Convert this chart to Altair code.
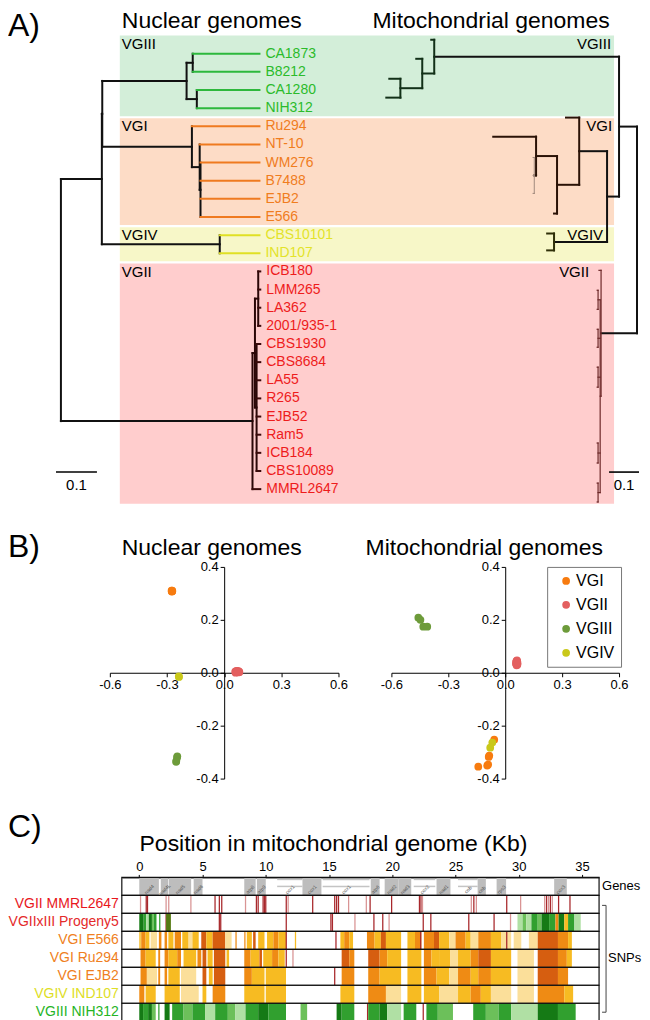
import altair as alt
import pandas as pd

FONT = "Liberation Sans"

# ============================ A) phylogenies ============================
clades = ["VGIII", "VGI", "VGIV", "VGII"]

nuc_leaf_names = ["CA1873", "B8212", "CA1280", "NIH312",
                  "Ru294", "NT-10", "WM276", "B7488", "EJB2", "E566",
                  "CBS10101", "IND107",
                  "ICB180", "LMM265", "LA362", "2001/935-1", "CBS1930",
                  "CBS8684", "LA55", "R265", "EJB52", "Ram5", "ICB184",
                  "CBS10089", "MMRL2647"]
nuc_leaf_group = ["VGIII"] * 4 + ["VGI"] * 6 + ["VGIV"] * 2 + ["VGII"] * 13
nuc_leaf_parent = ["III_a", "III_a", "III_b", "III_b",
                   "I", "I_a", "I_b", "I_b", "I_b", "I_b",
                   "IV", "IV",
                   "II_b", "II_b", "II_b", "II_b", "II_c", "II_c", "II_c",
                   "II_c", "II_c", "II_c", "II_c", "II_c", "II"]
nuc_leaf_depth = [0.485, 0.485, 0.485, 0.485,
                  0.485, 0.485, 0.485, 0.485, 0.485, 0.485,
                  0.485, 0.485,
                  0.487, 0.487, 0.487, 0.487, 0.487, 0.487, 0.487,
                  0.487, 0.487, 0.487, 0.487, 0.487, 0.487]
nuc_node_names = ["root", "A", "A1", "III", "III_a", "III_b", "I", "I_a",
                  "I_b", "IV", "II", "II_a", "II_b", "II_c"]
nuc_node_parent = [None, "root", "A", "A1", "III", "III", "A1", "I", "I_a",
                   "A", "root", "II", "II_a", "II_a"]
nuc_node_depth = [0.0, 0.100, 0.101, 0.307, 0.322, 0.332, 0.320, 0.339,
                  0.341, 0.388, 0.468, 0.474, 0.482, 0.478]
nuc_node_group = ["root", "root", "root", "VGIII", "VGIII", "VGIII", "VGI",
                  "VGI", "VGI", "VGIV", "VGII", "VGII", "VGII", "VGII"]

mito_node_names = ["mroot", "mB", "mIII", "mG", "mH", "mC", "mI", "mD", "mE",
                   "mF", "mIV", "mII", "mQ", "ms1", "ms2", "ms3", "ms4", "ms5"]
mito_node_parent = [None, "mroot", "mB", "mIII", "mG", "mB", "mC", "mI", "mD",
                    "mE", "mC", "mroot", "mII", "mQ", "mQ", "mQ", "mQ", "mQ"]
mito_node_depth = [0.0, 0.060, 0.677, 0.717, 0.790, 0.100, 0.193, 0.267, 0.337,
                   0.343, 0.277, 0.120, 0.123, 0.130, 0.130, 0.130, 0.130, 0.130]
mito_node_group = ["root", "root", "VGIII", "VGIII", "VGIII", "root", "VGI",
                   "VGI", "VGI", "VGIx", "VGIV", "VGII", "VGII", "VGII", "VGII",
                   "VGII", "VGII", "VGII"]
mito_leaf_names = ["m1", "m2", "m3", "m4", "m5", "m6", "m7", "m8", "m9", "m10",
                   "m11", "m12", "v1", "v2", "v3", "v4", "v5", "v6", "v7", "v8",
                   "v9", "v10", "v11"]
mito_leaf_parent = ["mIII", "mG", "mH", "mH", "mI", "mD", "mE", "mF", "mF",
                    "mF", "mIV", "mIV", "mII", "ms1", "ms1", "ms2", "ms2",
                    "ms3", "ms3", "ms4", "ms4", "ms5", "ms5"]
mito_leaf_depth = [0.687, 0.737, 0.827, 0.837, 0.237, 0.277, 0.480, 0.347,
                   0.347, 0.347, 0.300, 0.300, 0.127, 0.133, 0.133, 0.133,
                   0.133, 0.133, 0.133, 0.133, 0.133, 0.133, 0.133]
mito_leaf_row = [-0.77, 0.28, 1.38, 2.42, 3.52, 8.81, 4.57, 5.72, 6.71, 7.70,
                 9.91, 10.84, 11.94, 13.04, 14.09, 15.19, 16.18, 17.28, 18.38,
                 21.46, 22.56, 23.67, 24.71]
mito_leaf_group = ["VGIII"] * 4 + ["VGI"] * 3 + ["VGIx"] * 3 + ["VGIV"] * 2 + ["VGII"] * 11

SCALE_LEN = 0.1

# ============================ B) PCA ============================
pca_groups = ["VGI", "VGII", "VGIII", "VGIV"]
nuc_pc_group = ["VGI"] * 6 + ["VGII"] * 13 + ["VGIII"] * 4 + ["VGIV"] * 2
nuc_pc1 = [-0.276, -0.274, -0.273, -0.272, -0.275, -0.273,
           0.058, 0.062, 0.066, 0.070, 0.074, 0.078, 0.064, 0.068, 0.072,
           0.060, 0.076, 0.080, 0.066,
           -0.246, -0.247, -0.251, -0.252,
           -0.238, -0.237]
nuc_pc2 = [0.310, 0.309, 0.308, 0.309, 0.307, 0.310,
           0.004, 0.006, 0.003, 0.005, 0.004, 0.002, 0.002, 0.007, 0.001,
           0.000, 0.006, 0.003, 0.005,
           -0.316, -0.320, -0.333, -0.337,
           -0.014, -0.016]
mito_pc_group = ["VGI"] * 6 + ["VGII"] * 13 + ["VGIII"] * 4 + ["VGIV"] * 2
mito_pc1 = [-0.058, -0.084, -0.095, -0.142, -0.090, -0.087,
            0.060, 0.062, 0.058, 0.064, 0.061, 0.063, 0.059, 0.057, 0.065,
            0.060, 0.062, 0.059, 0.061,
            -0.458, -0.447, -0.432, -0.411,
            -0.068, -0.079]
mito_pc2 = [-0.253, -0.313, -0.351, -0.355, -0.347, -0.318,
            0.045, 0.040, 0.035, 0.030, 0.038, 0.043, 0.032, 0.041, 0.036,
            0.028, 0.047, 0.034, 0.039,
            0.208, 0.200, 0.174, 0.174,
            -0.264, -0.283]

# ============================ C) SNP map ============================
c_rows = ["Genes", "VGII MMRL2647", "VGIIxIII Progeny5", "VGI E566",
          "VGI Ru294", "VGI EJB2", "VGIV IND107", "VGIII NIH312"]
kb_ticks = [0, 5, 10, 15, 20, 25, 30, 35]

gene_names = ["nad4", "nad4L", "nad5", "nad6", "atp8", "atp9", "cox1", "atp6",
              "nad2", "nad3", "nad1", "cob", "rps3", "cox3"]
gene_start = [0.0, 1.7, 2.35, 4.3, 8.3, 9.3, 12.9, 18.3, 19.4, 20.5, 23.5,
              26.75, 28.25, 32.8]
gene_end = [1.55, 2.3, 4.1, 5.0, 9.2, 10.0, 14.4, 19.0, 20.5, 21.5, 24.6,
            27.4, 29.0, 33.8]
orf_names = ["cox1", "cox1", "cox2", "cob"]
orf_start = [10.9, 14.5, 21.7, 25.2]
orf_end = [12.9, 18.2, 23.4, 26.75]

mmrl_snps = [(0.05, 'p'), (0.5, 'r'), (0.6, 'r'), (2.07, 'p'), (2.28, 'p'),
             (4.03, 'p'), (5.94, 'r'), (6.28, 'r'), (6.47, 'r'), (8.35, 'p'),
             (9.21, 'r'), (9.35, 'r'), (9.74, 'r'), (9.85, 'r'), (9.95, 'r'),
             (11.57, 'r'), (11.72, 'p'), (13.66, 'r'), (15.4, 'r'), (15.55, 'r'),
             (15.7, 'r'), (16.5, 'p'), (17.9, 'p'), (18.2, 'r'), (19.9, 'r'),
             (22.1, 'r'), (22.22, 'r'), (22.34, 'p'), (26.2, 'p'), (26.4, 'r'),
             (26.6, 'p'), (29.0, 'r'), (30.1, 'p'), (32.0, 'p'), (32.15, 'r'),
             (32.3, 'p'), (32.45, 'r'), (32.6, 'p'), (33.1, 'r'), (34.0, 'r')]
prog_snps = [(0.0, 0.35, 'G'), (0.35, 0.55, 'g'), (0.55, 0.75, 'L'),
             (0.75, 1.0, 'G'), (1.0, 1.15, 'm'), (1.15, 1.36, 'g'), (1.57, 'g'),
             (2.07, 'r'), (2.12, 2.5, 'v'), (6.28, 'r'), (6.39, 'r'),
             (11.57, 'r'), (15.1, 'r'), (15.22, 'r'), (17.0, 'p'), (18.5, 'r'),
             (19.2, 'r'), (19.7, 'p'), (22.4, 'r'), (23.0, 'r'), (26.0, 'r'),
             (28.0, 'r'), (29.3, 'p'), (29.9, 30.3, 'L'), (30.3, 30.6, 'm'),
             (30.6, 31.0, 'L'), (31.0, 31.5, 'g'), (31.5, 31.8, 'm'),
             (31.8, 32.4, 'G'), (32.4, 32.9, 'g'), (32.9, 33.15, 'o'),
             (33.15, 33.6, 'G'), (33.6, 33.9, 'y'), (33.9, 34.4, 'g'),
             (34.4, 34.9, 'L')]
e566_snps = [(0.0, 0.12, 'y'), (0.15, 0.5, 'o'), (0.5, 0.8, 'y'), (0.9, 1.4, 'l'),
             (1.55, 1.75, 'o'), (2.0, 2.2, 'o'), (2.3, 2.7, 'y'), (2.8, 3.3, 'o'),
             (3.4, 3.9, 'y'), (3.9, 4.2, 'l'), (4.2, 4.7, 'y'), (4.9, 5.3, 'd'),
             (5.3, 5.8, 'y'), (5.8, 6.8, 'd'), (6.8, 7.3, 'l'), (7.6, 'o'),
             (8.3, 'o'), (8.5, 8.9, 'y'), (9.0, 9.2, 'd'), (9.4, 9.9, 'y'),
             (10.1, 10.6, 'y'), (10.6, 11.0, 'o'), (11.0, 11.6, 'y'), (11.57, 'r'),
             (12.3, 'y'), (15.5, 'r'), (15.9, 16.2, 'y'), (16.2, 16.6, 'o'),
             (16.6, 16.9, 'y'), (18.0, 18.6, 'o'), (18.6, 19.1, 'y'),
             (19.1, 19.5, 'd'), (19.5, 20.7, 'y'), (21.2, 21.8, 'y'),
             (21.8, 22.3, 'o'), (22.2, 'r'), (22.5, 23.3, 'o'), (23.3, 23.7, 'd'),
             (23.7, 24.5, 'y'), (24.5, 25.0, 'l'), (25.0, 25.8, 'o'),
             (25.8, 26.2, 'y'), (26.2, 26.8, 'l'), (26.8, 27.8, 'o'),
             (27.8, 28.6, 'y'), (28.6, 29.4, 'l'), (29.0, 'r'), (29.6, 30.2, 'l'),
             (30.8, 31.5, 'l'), (31.5, 33.1, 'd'), (33.1, 33.9, 'o'),
             (33.9, 34.2, 'y')]
ru294_snps = [(0.1, 0.5, 'o'), (0.5, 1.3, 'y'), (1.5, 1.65, 'o'), (2.0, 2.3, 'o'),
              (2.3, 3.0, 'y'), (3.0, 3.3, 'o'), (3.5, 4.5, 'y'), (4.6, 4.9, 'o'),
              (5.0, 5.3, 'd'), (5.4, 5.8, 'y'), (5.9, 6.8, 'd'), (6.9, 7.1, 'y'),
              (8.3, 8.8, 'o'), (8.8, 9.5, 'y'), (9.5, 9.7, 'd'), (9.8, 10.5, 'y'),
              (10.5, 11.0, 'o'), (11.0, 11.5, 'y'), (11.57, 'r'), (12.1, 'p'),
              (16.0, 16.6, 'd'), (16.6, 17.0, 'o'), (18.1, 19.0, 'd'),
              (19.0, 19.6, 'o'), (19.6, 20.7, 'y'), (21.2, 22.3, 'y'),
              (22.5, 23.1, 'o'), (23.1, 23.7, 'y'), (23.7, 24.6, 'y'),
              (24.6, 25.2, 'l'), (25.2, 26.2, 'y'), (26.2, 26.8, 'o'),
              (26.8, 27.8, 'd'), (27.8, 29.4, 'y'), (29.9, 31.2, 'l'),
              (31.5, 33.1, 'd'), (33.1, 33.8, 'o'), (33.8, 34.2, 'y')]
ejb2_snps = [(0.1, 0.6, 'o'), (0.6, 1.4, 'l'), (1.5, 1.65, 'o'), (2.0, 2.2, 'o'),
             (2.3, 3.2, 'y'), (3.3, 4.5, 'l'), (5.0, 5.3, 'd'), (5.5, 5.8, 'y'),
             (5.9, 6.8, 'd'), (8.3, 8.9, 'o'), (8.9, 9.9, 'y'), (10.0, 11.6, 'y'),
             (15.4, 'r'), (16.0, 17.0, 'o'), (18.1, 19.0, 'o'), (19.0, 20.7, 'y'),
             (21.2, 22.3, 'y'), (22.5, 23.5, 'o'), (23.5, 24.5, 'y'),
             (24.5, 25.2, 'l'), (25.2, 26.2, 'o'), (26.2, 26.8, 'y'),
             (26.8, 27.8, 'o'), (27.8, 29.4, 'y'), (29.9, 31.2, 'l'),
             (31.5, 33.1, 'd'), (33.1, 33.9, 'o')]
ind107_snps = [(0.0, 0.4, 'o'), (0.5, 1.3, 'y'), (2.0, 3.2, 'y'), (3.3, 4.7, 'l'),
               (5.0, 5.3, 'y'), (5.8, 6.8, 'o'), (8.3, 9.9, 'y'), (10.0, 11.6, 'y'),
               (15.9, 17.0, 'y'), (18.1, 19.5, 'o'), (19.5, 20.7, 'l'),
               (21.2, 22.3, 'y'), (22.5, 23.7, 'y'), (23.7, 25.2, 'l'),
               (25.2, 26.2, 'y'), (26.2, 27.0, 'o'), (27.0, 27.8, 'y'),
               (27.8, 29.4, 'l'), (29.9, 31.2, 'l'), (31.5, 33.6, 'o'),
               (33.6, 34.3, 'y')]
nih312_snps = [(0.0, 0.3, 'G'), (0.3, 0.7, 'g'), (0.7, 1.0, 'G'), (1.0, 1.3, 'm'),
               (1.5, 'g'), (2.0, 2.4, 'G'), (2.6, 3.5, 'g'), (3.5, 4.2, 'm'),
               (4.2, 5.2, 'g'), (5.2, 6.0, 'L'), (6.0, 7.0, 'g'), (7.0, 7.6, 'm'),
               (7.6, 8.4, 'L'), (8.4, 9.4, 'g'), (9.4, 10.2, 'G'), (10.2, 11.6, 'g'),
               (12.75, 13.27, 'm'), (15.6, 16.0, 'G'), (16.0, 17.0, 'g'),
               (18.0, 'r'), (18.1, 19.0, 'g'), (19.0, 19.6, 'G'), (19.6, 20.7, 'L'),
               (20.9, 21.9, 'g'), (22.4, 'r'), (22.7, 23.6, 'g'), (23.6, 24.8, 'm'),
               (26.4, 27.4, 'g'), (27.4, 28.4, 'm'), (28.4, 29.4, 'g'),
               (29.4, 31.5, 'L'), (31.5, 33.1, 'G'), (33.1, 34.5, 'g')]

# ============================ styles ============================
BAND_COL = {"VGIII": "#d3eed9", "VGI": "#fddcc6", "VGIV": "#f7f7c8", "VGII": "#ffcdcd"}
LEAF_TXT = {"VGIII": "#2bbb2b", "VGI": "#f07d1e", "VGIV": "#e3e32a", "VGII": "#ee1c1c"}
NUC_INT = {"root": "#111111", "VGIII": "#111111", "VGI": "#111111", "VGIV": "#111111", "VGII": "#2a0606"}
NUC_LEAF = {"VGIII": "#2db83d", "VGI": "#ef7a1f", "VGIV": "#e0e024", "VGII": "#3a0a0a"}
MITO_COL = {"root": "#111111", "VGIII": "#123018", "VGI": "#2a1206", "VGIx": "#a08a7c",
            "VGIV": "#2f2f08", "VGII": "#6e2a2a"}
MITO_W = {"VGIx": 1.0, "VGII": 1.2}
MITO_LAB_X = {"VGIII": 604, "VGI": 605, "VGIV": 596, "VGII": 582}
PCA_COL = ["#f77b0f", "#e35f5f", "#6d9b3a", "#c9c81a"]
ROW_COL = {"VGII MMRL2647": "#e8161c", "VGIIxIII Progeny5": "#e42a2a",
           "VGI E566": "#ef7f22", "VGI Ru294": "#ef7f22", "VGI EJB2": "#ef7f22",
           "VGIV IND107": "#dede26", "VGIII NIH312": "#25b425"}
SNP_COL = {'r': '#a8282c', 'p': '#d99494', 'y': '#f7bb22', 'l': '#fbdf9a',
           'o': '#ef8b14', 'd': '#d65e10', 'G': '#157a15', 'g': '#31a02f',
           'm': '#6cc05a', 'L': '#b0e0a4', 'v': '#557a12'}
SNP_LINE_W = 0.1


def build_tree(node_names, node_parent, node_depth, node_group,
               leaf_names, leaf_parent, leaf_depth, leaf_row, leaf_group,
               int_col, leaf_col, width_map, default_w):
    parent = dict(zip(node_names, node_parent))
    parent.update(zip(leaf_names, leaf_parent))
    depth = dict(zip(node_names, node_depth))
    depth.update(zip(leaf_names, leaf_depth))
    group = dict(zip(node_names, node_group))
    group.update(zip(leaf_names, leaf_group))
    leaves = set(leaf_names)
    allnodes = list(node_names) + list(leaf_names)
    children = {}
    for n in allnodes:
        p = parent[n]
        if p is not None:
            children.setdefault(p, []).append(n)
    ypos = dict(zip(leaf_names, leaf_row))

    def gy(n):
        if n not in ypos:
            cy = [gy(c) for c in children[n]]
            ypos[n] = (min(cy) + max(cy)) / 2
        return ypos[n]

    for n in allnodes:
        gy(n)
    segs = []
    for n in allnodes:
        p = parent[n]
        if p is not None:
            if n in leaves:
                key = group[n]
                col = leaf_col[key]
            else:
                key = group[p]
                col = int_col[key]
            segs.append(dict(x=depth[p], x2=depth[n], y=ypos[n], y2=ypos[n],
                             col=col, w=width_map.get(key, default_w)))
        if n in children:
            cy = [ypos[c] for c in children[n]]
            key = group[n]
            segs.append(dict(x=depth[n], x2=depth[n], y=min(cy), y2=max(cy),
                             col=int_col[key], w=width_map.get(key, default_w)))
    return pd.DataFrame(segs)


def label(text, x, y, size, align="left", color="black"):
    return alt.Chart(pd.DataFrame({"t": [text]})).mark_text(
        align=align, baseline="alphabetic", fontSize=size, color=color
    ).encode(x=alt.value(x), y=alt.value(y), text="t:N")


# ---------------- A chart ----------------
WA, HA = 634, 497
YA = alt.Scale(domain=[-2.4766, 24.876], reverse=True, nice=False, zero=False)
XN = alt.Scale(domain=[-0.12927, 1.41707], nice=False, zero=False)
XM = alt.Scale(domain=[-0.01333, 2.1], reverse=True, nice=False, zero=False)

nuc_rows = list(range(len(nuc_leaf_names)))
nuc_seg = build_tree(nuc_node_names, nuc_node_parent, nuc_node_depth, nuc_node_group,
                     nuc_leaf_names, nuc_leaf_parent, nuc_leaf_depth, nuc_rows,
                     nuc_leaf_group, NUC_INT, NUC_LEAF, {}, 2.0)
mito_seg = build_tree(mito_node_names, mito_node_parent, mito_node_depth, mito_node_group,
                      mito_leaf_names, mito_leaf_parent, mito_leaf_depth, mito_leaf_row,
                      mito_leaf_group, MITO_COL, MITO_COL, MITO_W, 2.0)

BAND_GAP = 0.06
band_recs = []
for i, g in enumerate(clades):
    rr = [r for r, gg in zip(nuc_rows, nuc_leaf_group) if gg == g]
    top = min(rr) - 0.5 + BAND_GAP
    bot = max(rr) + 0.5 - BAND_GAP
    if i == 0:
        top = -1.0
    if i == len(clades) - 1:
        bot = 24.8
    band_recs.append(dict(group=g, top=top, bot=bot, lab=top + 0.72,
                          col=BAND_COL[g], mx=MITO_LAB_X[g]))
band_df = pd.DataFrame(band_recs)

nuc_leaf_df = pd.DataFrame({"name": nuc_leaf_names, "row": nuc_rows,
                            "depth": nuc_leaf_depth,
                            "tcol": [LEAF_TXT[g] for g in nuc_leaf_group]})

bands = alt.Chart(band_df).mark_rect().encode(
    x=alt.value(112), x2=alt.value(607),
    y=alt.Y("top:Q", scale=YA, axis=None), y2="bot:Q",
    color=alt.Color("col:N", scale=None))


def tree_layer(seg, xs):
    return alt.Chart(seg).mark_rule(strokeCap="square").encode(
        x=alt.X("x:Q", scale=xs, axis=None), x2="x2:Q",
        y=alt.Y("y:Q", scale=YA, axis=None), y2="y2:Q",
        color=alt.Color("col:N", scale=None),
        strokeWidth=alt.StrokeWidth("w:Q", scale=None))


nuc_tree = tree_layer(nuc_seg, XN)
mito_tree = tree_layer(mito_seg, XM)

nuc_lab = alt.Chart(nuc_leaf_df).mark_text(
    align="left", baseline="middle", dx=6, fontSize=14).encode(
    x=alt.X("depth:Q", scale=XN, axis=None),
    y=alt.Y("row:Q", scale=YA, axis=None),
    text="name:N", color=alt.Color("tcol:N", scale=None))

band_lab_n = alt.Chart(band_df).mark_text(
    align="left", baseline="alphabetic", fontSize=15, color="black").encode(
    x=alt.value(114), y=alt.Y("lab:Q", scale=YA, axis=None), text="group:N")
band_lab_m = alt.Chart(band_df).mark_text(
    align="right", baseline="alphabetic", fontSize=15, color="black").encode(
    x=alt.X("mx:Q", scale=None), y=alt.Y("lab:Q", scale=YA, axis=None), text="group:N")

sbn_start, sbm_start, sb_row, sb_lab_row = -0.012, -0.0067, 23.06, 24.05
sb_n = alt.Chart(pd.DataFrame({"x": [sbn_start], "x2": [sbn_start + SCALE_LEN], "y": [sb_row]})
                 ).mark_rule(strokeWidth=1.6, color="black").encode(
    x=alt.X("x:Q", scale=XN, axis=None), x2="x2:Q", y=alt.Y("y:Q", scale=YA, axis=None))
sb_m = alt.Chart(pd.DataFrame({"x": [sbm_start], "x2": [sbm_start + SCALE_LEN], "y": [sb_row]})
                 ).mark_rule(strokeWidth=1.6, color="black").encode(
    x=alt.X("x:Q", scale=XM, axis=None), x2="x2:Q", y=alt.Y("y:Q", scale=YA, axis=None))
sb_n_t = alt.Chart(pd.DataFrame({"x": [sbn_start + SCALE_LEN / 2], "y": [sb_lab_row], "t": [str(SCALE_LEN)]})
                   ).mark_text(fontSize=15, baseline="alphabetic").encode(
    x=alt.X("x:Q", scale=XN, axis=None), y=alt.Y("y:Q", scale=YA, axis=None), text="t:N")
sb_m_t = alt.Chart(pd.DataFrame({"x": [sbm_start + SCALE_LEN / 2], "y": [sb_lab_row], "t": [str(SCALE_LEN)]})
                   ).mark_text(fontSize=15, baseline="alphabetic").encode(
    x=alt.X("x:Q", scale=XM, axis=None), y=alt.Y("y:Q", scale=YA, axis=None), text="t:N")

chart_a = alt.layer(
    bands, nuc_tree, mito_tree, nuc_lab, band_lab_n, band_lab_m,
    sb_n, sb_m, sb_n_t, sb_m_t,
    label("A)", 0, 27, 32),
    label("Nuclear genomes", 114, 19, 23),
    label("Mitochondrial genomes", 365, 19, 23),
).resolve_scale(x="independent").properties(width=WA, height=HA)

# ---------------- B charts ----------------
PCX = alt.Scale(domain=[-0.6, 0.6], nice=False, zero=False)
PCY = alt.Scale(domain=[-0.4, 0.4], nice=False, zero=False)
LAB_EXPR = "replace(format(datum.value, '.1f'), '\u2212', '-')"
HB = 212


def pca_panel(pc1, pc2, grp, w, title, tx, legend):
    df = pd.DataFrame({"pc1": pc1, "pc2": pc2, "group": grp})
    common = dict(title=None, grid=False, labelFlush=False, tickSize=4,
                  labelFontSize=13, labelColor="black", domainColor="black",
                  tickColor="black", labelPadding=2, labelExpr=LAB_EXPR)
    ax_x = alt.Axis(values=[-0.6, -0.3, 0.0, 0.3, 0.6], offset=-HB / 2, **common)
    ax_y = alt.Axis(values=[-0.4, -0.2, 0.0, 0.2, 0.4], offset=-w / 2, **common)
    pts = alt.Chart(df).mark_circle(size=60, opacity=1).encode(
        x=alt.X("pc1:Q", scale=PCX, axis=ax_x),
        y=alt.Y("pc2:Q", scale=PCY, axis=ax_y),
        color=alt.Color("group:N", scale=alt.Scale(domain=pca_groups, range=PCA_COL),
                        legend=legend))
    return alt.layer(pts, label(title, tx, -12, 23, align="center")).properties(width=w, height=HB)


mito_legend = alt.Legend(orient="none", legendX=156, legendY=0, title=None,
                         strokeColor="#777777", padding=6, labelFontSize=16,
                         symbolSize=60, symbolType="circle", rowPadding=8,
                         symbolOffset=5, labelOffset=2, fillColor="white",
                         labelColor="black")
nuc_panel = pca_panel(nuc_pc1, nuc_pc2, nuc_pc_group, 229, "Nuclear genomes", 102, None)
mito_panel = pca_panel(mito_pc1, mito_pc2, mito_pc_group, 228, "Mitochondrial genomes", 93, mito_legend)
spacer_b = label("B)", 0, -10, 32).properties(width=49, height=HB)
row_b = alt.hconcat(spacer_b, nuc_panel, mito_panel, spacing=53, bounds="flush"
                    ).resolve_scale(color="independent")

# ---------------- C chart ----------------
WC, HC = 478, 144
XC = alt.Scale(domain=[-1.38, 36.35], nice=False, zero=False)
YC = alt.Scale(type="band", domain=c_rows, paddingInner=0, paddingOuter=0)
AXC = alt.Axis(orient="top", values=kb_ticks, title=None, grid=False, tickSize=3,
               labelPadding=1, labelFontSize=13, labelColor="black",
               domainColor="black", tickColor="black", labelFlush=False)

snp_rows = {"VGII MMRL2647": mmrl_snps, "VGIIxIII Progeny5": prog_snps,
            "VGI E566": e566_snps, "VGI Ru294": ru294_snps, "VGI EJB2": ejb2_snps,
            "VGIV IND107": ind107_snps, "VGIII NIH312": nih312_snps}
recs = []
for row, items in snp_rows.items():
    for it in items:
        if len(it) == 2:
            s, c = it
            e = s + SNP_LINE_W
        else:
            s, e, c = it
        recs.append(dict(row=row, s=s, e=e, c=SNP_COL[c]))
snp_df = pd.DataFrame(recs)

gene_df = pd.DataFrame({"row": "Genes", "s": gene_start, "e": gene_end, "name": gene_names})
gene_lab_df = pd.DataFrame({"row": "Genes",
                            "s": [(a + b) / 2 for a, b in zip(gene_start, gene_end)] +
                                 [(a + b) / 2 for a, b in zip(orf_start, orf_end)],
                            "name": gene_names + orf_names})
orf_df = pd.DataFrame({"row": "Genes", "s": orf_start, "e": orf_end})
rows_df = pd.DataFrame({"row": c_rows})

xenc = alt.X("s:Q", scale=XC, axis=AXC)
yenc = alt.Y("row:N", scale=YC, axis=None)

snp_layer = alt.Chart(snp_df).mark_rect().encode(
    x=xenc, x2="e:Q", y=yenc, color=alt.Color("c:N", scale=None))
gene_layer = alt.Chart(gene_df).mark_rect(color="#bdbdbd").encode(x=xenc, x2="e:Q", y=yenc)
orf_top = alt.Chart(orf_df).mark_rule(color="#c4c4c4", strokeWidth=1.5, yOffset=-7).encode(
    x=xenc, x2="e:Q", y=yenc)
orf_mid = alt.Chart(orf_df).mark_rule(color="#c4c4c4", strokeWidth=1.5, yOffset=0).encode(
    x=xenc, x2="e:Q", y=yenc)
gene_txt = alt.Chart(gene_lab_df).mark_text(angle=315, fontSize=5, color="#555555", yOffset=3).encode(
    x=xenc, y=yenc, text="name:N")
row_frames = alt.Chart(rows_df).mark_rect(fillOpacity=0, stroke="#111111", strokeWidth=1.2).encode(
    x=alt.value(0), x2=alt.value(WC), y=yenc)
genes_txt = alt.Chart(pd.DataFrame({"row": ["Genes"], "t": ["Genes"]})).mark_text(
    align="left", baseline="middle", fontSize=13).encode(x=alt.value(481), y=yenc, text="t:N")
snps_txt = alt.Chart(pd.DataFrame({"row": ["VGI Ru294"], "t": ["SNPs"]})).mark_text(
    align="left", baseline="middle", fontSize=13).encode(x=alt.value(487), y=yenc, text="t:N")
dummy = pd.DataFrame({"a": [0]})
br_v = alt.Chart(dummy).mark_rule(color="#444444", strokeWidth=1).encode(
    x=alt.value(485), y=alt.value(28), y2=alt.value(135))
br_t = alt.Chart(dummy).mark_rule(color="#444444", strokeWidth=1).encode(
    x=alt.value(481), x2=alt.value(485), y=alt.value(28))
br_b = alt.Chart(dummy).mark_rule(color="#444444", strokeWidth=1).encode(
    x=alt.value(481), x2=alt.value(485), y=alt.value(135))

chart_c = alt.layer(
    snp_layer, gene_layer, orf_top, orf_mid, gene_txt, row_frames,
    genes_txt, snps_txt, br_v, br_t, br_b,
    label("Position in mitochondrial genome (Kb)", 212, -26, 23, align="center"),
).properties(width=WC, height=HC)

rowlab_df = pd.DataFrame({"row": c_rows[1:], "c": [ROW_COL[r] for r in c_rows[1:]]})
row_labels = alt.layer(
    alt.Chart(rowlab_df).mark_text(align="right", baseline="middle", fontSize=14).encode(
        x=alt.value(111), y=yenc, text="row:N", color=alt.Color("c:N", scale=None)),
    label("C)", 0, -40, 32),
).properties(width=110, height=HC)

row_c = alt.hconcat(row_labels, chart_c, spacing=4, bounds="flush")

chart = alt.vconcat(chart_a, row_b, row_c, spacing=26, bounds="full").properties(
    padding=0
).configure(font=FONT).configure_view(strokeWidth=0)

chart.save("out.html", embed_options={"renderer": "svg", "actions": False})
